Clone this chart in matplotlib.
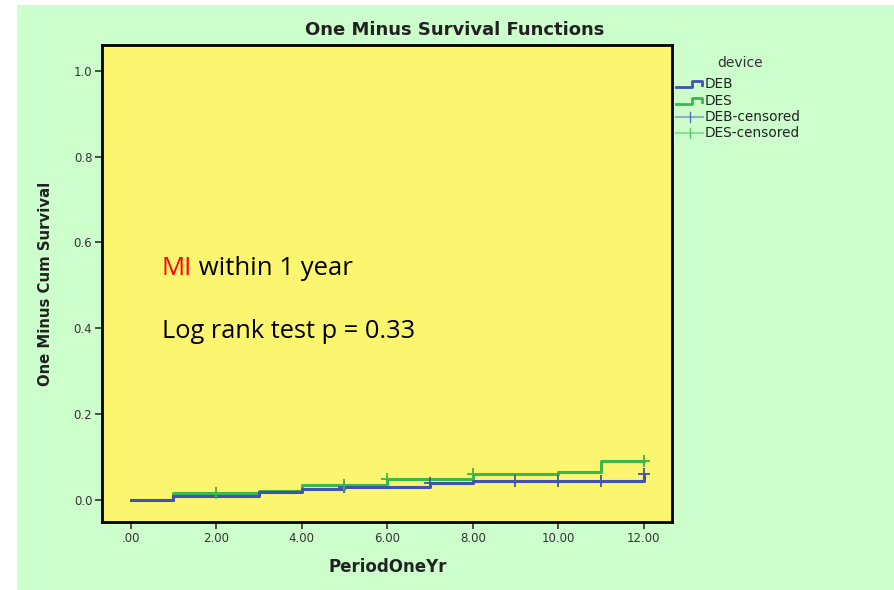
import numpy as np
import matplotlib.pyplot as plt
from matplotlib.lines import Line2D
from matplotlib.patches import Rectangle

# --- data ---
deb_times = [0, 1, 3, 4, 5, 7, 8, 12]
deb_values = [0.0, 0.008, 0.017, 0.025, 0.030, 0.039, 0.044, 0.060]
des_times = [0, 1, 3, 4, 6, 8, 10, 11, 12]
des_values = [0.0, 0.016, 0.021, 0.035, 0.047, 0.060, 0.064, 0.089, 0.089]
deb_censored = [5, 7, 9, 10, 11, 12]
des_censored = [2, 5, 6, 8, 12]

x_ticks = [0, 2, 4, 6, 8, 10, 12]
x_tick_labels = ['.00', '2.00', '4.00', '6.00', '8.00', '10.00', '12.00']
y_ticks = [0.0, 0.2, 0.4, 0.6, 0.8, 1.0]
y_tick_labels = ['0.0', '0.2', '0.4', '0.6', '0.8', '1.0']

BLUE = '#4152B0'
GREEN = '#3CB84A'
W, H = 895, 590


def fx(px):
    return px / W


def fy(py):
    return 1 - py / H


def step_value(times, values, t):
    i = np.searchsorted(times, t, side='right') - 1
    return values[i]


fig = plt.figure(figsize=(W / 100, H / 100), dpi=100)
fig.patch.set_facecolor('white')
fig.add_artist(Rectangle((fx(17), 0), 1 - fx(17), fy(5), transform=fig.transFigure,
                         facecolor='#CCFFCC', edgecolor='none', zorder=0))

ax = fig.add_axes([fx(102), fy(522), fx(672) - fx(102), fy(45) - fy(522)])
ax.set_facecolor('#FBF56F')
ax.set_zorder(1)

ax.step(deb_times, deb_values, where='post', color=BLUE, lw=2.2, zorder=3)
ax.step(des_times, des_values, where='post', color=GREEN, lw=2.2, zorder=2)
ax.plot(deb_censored, [step_value(deb_times, deb_values, t) for t in deb_censored],
        ls='none', marker='+', ms=8, mew=1.3, color=BLUE, zorder=4)
ax.plot(des_censored, [step_value(des_times, des_values, t) for t in des_censored],
        ls='none', marker='+', ms=8, mew=1.3, color=GREEN, zorder=4)

ax.set_xlim(-0.67, 12.66)
ax.set_ylim(-0.0525, 1.0607)
ax.set_xticks(x_ticks)
ax.set_xticklabels(x_tick_labels)
ax.set_yticks(y_ticks)
ax.set_yticklabels(y_tick_labels)
ax.tick_params(direction='out', length=5, width=1.2, labelsize=8.5,
               labelcolor='#333333', color='#333333', pad=2)
for sp in ax.spines.values():
    sp.set_linewidth(2)
    sp.set_color('black')

fig.text(fx(455), fy(30), 'One Minus Survival Functions', ha='center', va='center',
         fontsize=13, fontweight='bold', color='#222222')
fig.text(fx(388), fy(567), 'PeriodOneYr', ha='center', va='center',
         fontsize=12, fontweight='bold', color='#222222')
fig.text(fx(46), fy(284), 'One Minus Cum Survival', ha='center', va='center',
         rotation=90, fontsize=10.7, fontweight='bold', color='#222222')

# annotation in the plot area
t1 = ax.text(0.105, 0.518, 'MI', transform=ax.transAxes, fontsize=18.5,
             family='Open Sans', color='#FF0000', va='baseline')
fig.canvas.draw()
bb = t1.get_window_extent()
x_after = ax.transAxes.inverted().transform((bb.x1, bb.y0))[0]
ax.text(x_after, 0.518, ' within 1 year', transform=ax.transAxes, fontsize=18.5,
        family='Open Sans', color='black', va='baseline')
ax.text(0.105, 0.386, 'Log rank test p = 0.33', transform=ax.transAxes, fontsize=18.3,
        family='Open Sans', color='black', va='baseline')

# legend drawn by hand
fig.text(fx(740), fy(63), 'device', ha='center', va='center', fontsize=10, color='#333333')
legend_rows = [('DEB', BLUE, 'step', 84), ('DES', GREEN, 'step', 101),
               ('DEB-censored', BLUE, 'cens', 117), ('DES-censored', GREEN, 'cens', 133)]
for label, col, kind, py in legend_rows:
    if kind == 'step':
        xs = [676, 692, 692, 702, 702]
        ys = [py + 3, py + 3, py - 3, py - 3, py + 1]
        fig.add_artist(Line2D([fx(v) for v in xs], [fy(v) for v in ys],
                              transform=fig.transFigure, color=col, lw=2))
    else:
        fig.add_artist(Line2D([fx(676), fx(703)], [fy(py), fy(py)],
                              transform=fig.transFigure, color=col, lw=1.5, alpha=0.45))
        fig.add_artist(Line2D([fx(690), fx(690)], [fy(py - 5), fy(py + 5)],
                              transform=fig.transFigure, color=col, lw=1, alpha=0.8))
    fig.text(fx(705), fy(py), label, ha='left', va='center', fontsize=9.8, color='#222222')

fig.savefig('out.png', dpi=100, facecolor=fig.get_facecolor())
